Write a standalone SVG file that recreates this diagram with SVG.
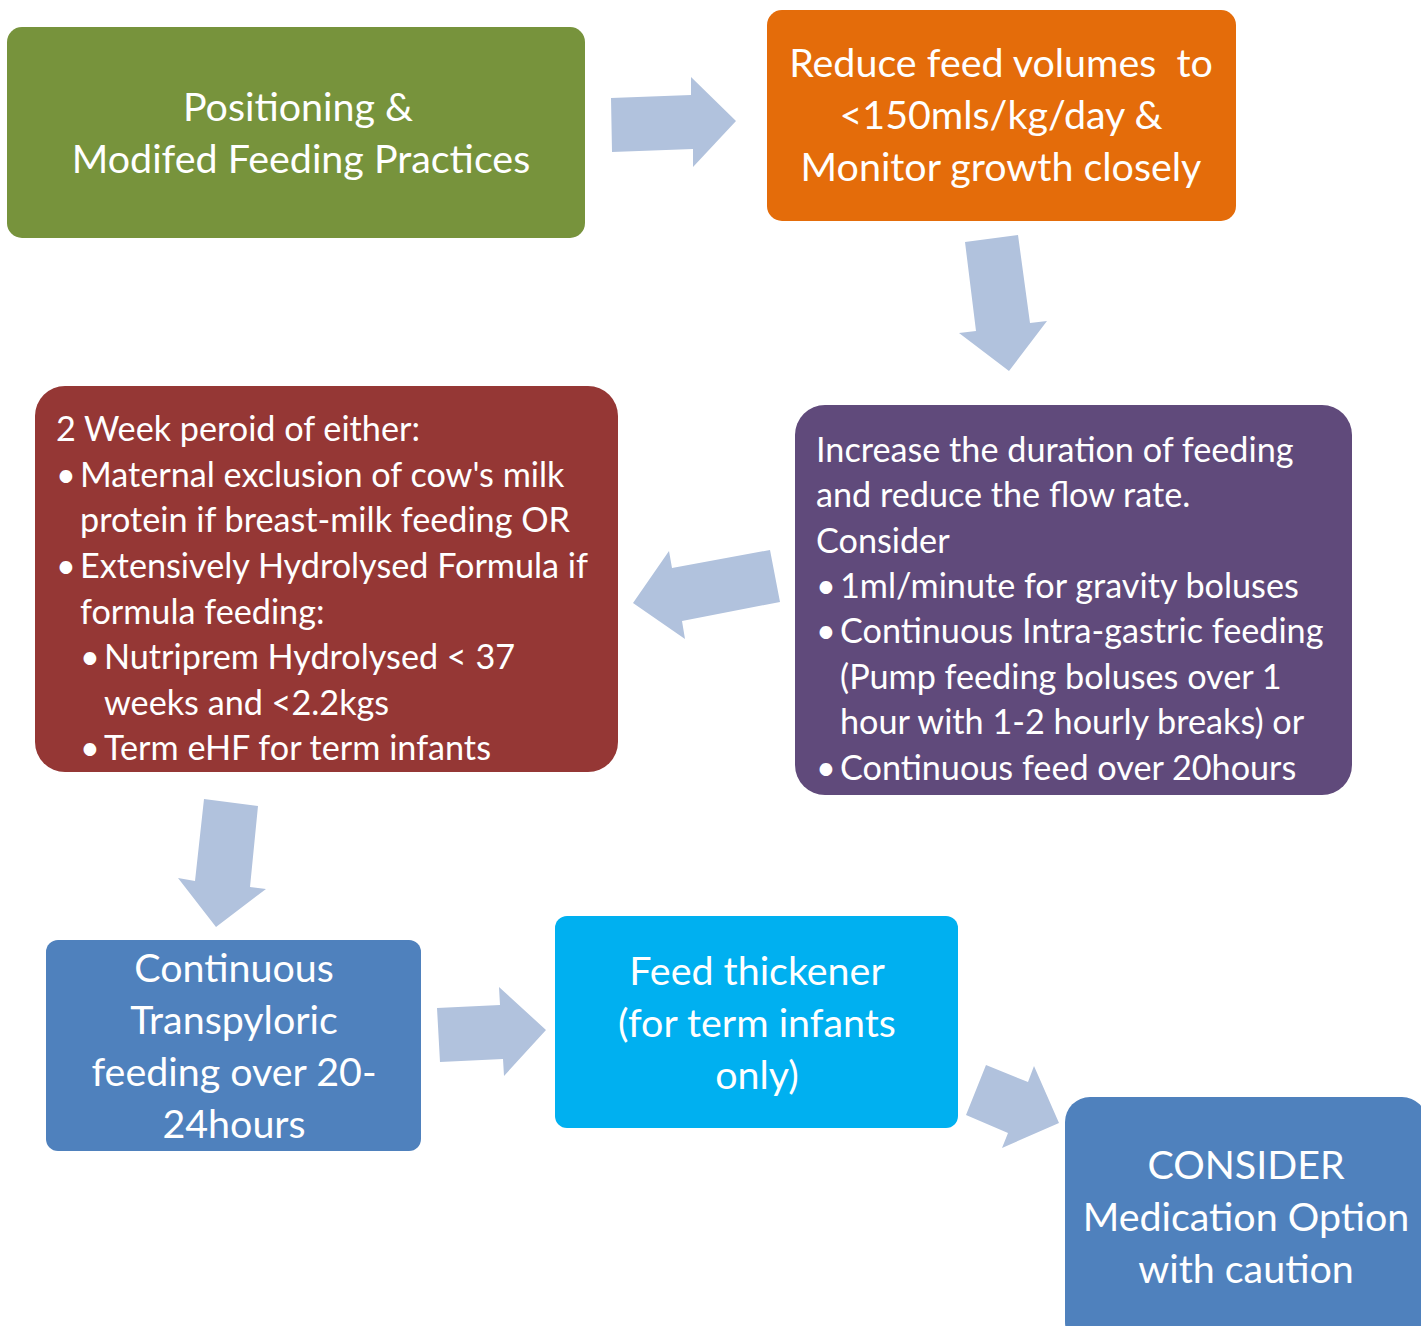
<svg xmlns="http://www.w3.org/2000/svg" width="1421" height="1326" viewBox="0 0 1421 1326">
<style>
.t{font-family:Lato,"Liberation Sans",sans-serif;fill:#fff}
.big{font-size:39.4px}
.mid{font-size:34.2px}
.c{text-anchor:middle}
.arrow{fill:#B1C2DD}
</style>
<rect width="1421" height="1326" fill="#fff"/>
<g id="connectors">
<polygon class="arrow" points="611,98 691,95 691,77 736,121 693,167 693,149 612,152"/>
<polygon class="arrow" points="965,242 1018,235 1030,323 1047,321 1009,371 959,333 976,331"/>
<polygon class="arrow" points="633,603 669,551 672,568 770,550 780,602 682,621 685,639"/>
<polygon class="arrow" points="204,799 258,806 250,887 266,889 216,927 178,878 195,881"/>
<polygon class="arrow" points="437,1008 500,1005 499,987 546,1030 504,1076 503,1059 440,1062"/>
<polygon class="arrow" points="986,1065 1028,1082 1034,1066 1059,1123 1002,1148 1008,1133 966,1115"/>
</g>
<g id="n1">
<rect x="7" y="27" width="578" height="211" rx="15" fill="#77933C"/>
<text class="t big c" x="298" y="121">Positioning &amp;</text>
<text class="t big c" x="301" y="173">Modifed Feeding Practices</text>
</g>
<g id="n2">
<rect x="767" y="10" width="469" height="211" rx="15" fill="#E46C0A"/>
<text class="t big c" x="1001" y="77" xml:space="preserve">Reduce feed volumes  to</text>
<text class="t big c" x="1001" y="129">&lt;150mls/kg/day &amp;</text>
<text class="t big c" x="1001" y="181">Monitor growth closely</text>
</g>
<g id="n3">
<rect x="795" y="405" width="557" height="390" rx="30" fill="#604A7B"/>
<text class="t mid" x="816" y="462">Increase the duration of feeding</text>
<text class="t mid" x="816" y="507">and reduce the flow rate.</text>
<text class="t mid" x="816" y="553">Consider</text>
<text class="t mid" x="816" y="598">•</text><text class="t mid" x="840" y="598">1ml/minute for gravity boluses</text>
<text class="t mid" x="816" y="643">•</text><text class="t mid" x="840" y="643">Continuous Intra-gastric feeding</text>
<text class="t mid" x="840" y="689">(Pump feeding boluses over 1</text>
<text class="t mid" x="840" y="734">hour with 1-2 hourly breaks) or</text>
<text class="t mid" x="816" y="780">•</text><text class="t mid" x="840" y="780">Continuous feed over 20hours</text>
</g>
<g id="n4">
<rect x="35" y="386" width="583" height="386" rx="30" fill="#953735"/>
<text class="t mid" x="56" y="441">2 Week peroid of either:</text>
<text class="t mid" x="56" y="487">•</text><text class="t mid" x="80" y="487">Maternal exclusion of cow's milk</text>
<text class="t mid" x="80" y="532">protein if breast-milk feeding OR</text>
<text class="t mid" x="56" y="578">•</text><text class="t mid" x="80" y="578">Extensively Hydrolysed Formula if</text>
<text class="t mid" x="80" y="624">formula feeding:</text>
<text class="t mid" x="80" y="669">•</text><text class="t mid" x="104" y="669">Nutriprem Hydrolysed &lt; 37</text>
<text class="t mid" x="104" y="715">weeks and &lt;2.2kgs</text>
<text class="t mid" x="80" y="760">•</text><text class="t mid" x="104" y="760">Term eHF for term infants</text>
</g>
<g id="n5">
<rect x="46" y="940" width="375" height="211" rx="12" fill="#4F81BD"/>
<text class="t big c" x="234" y="982">Continuous</text>
<text class="t big c" x="234" y="1034">Transpyloric</text>
<text class="t big c" x="234" y="1086">feeding over 20-</text>
<text class="t big c" x="234" y="1138">24hours</text>
</g>
<g id="n6">
<rect x="555" y="916" width="403" height="212" rx="12" fill="#00B0F0"/>
<text class="t big c" x="757" y="985">Feed thickener</text>
<text class="t big c" x="757" y="1037">(for term infants</text>
<text class="t big c" x="757" y="1089">only)</text>
</g>
<g id="n7">
<rect x="1065" y="1097" width="362" height="250" rx="25" fill="#4F81BD"/>
<text class="t big c" x="1246" y="1179">CONSIDER</text>
<text class="t big c" x="1246" y="1231">Medication Option</text>
<text class="t big c" x="1246" y="1283">with caution</text>
</g>
</svg>
